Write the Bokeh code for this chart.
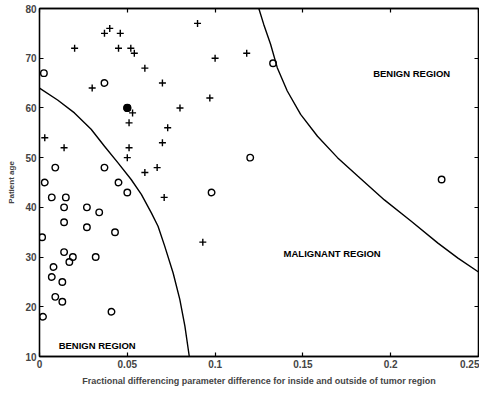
from bokeh.plotting import figure
from bokeh.models import LinearAxis, FixedTicker, Label, Range1d
from bokeh.embed import file_html
from bokeh.resources import INLINE

# ---- data ----
plus_x = [0.020, 0.037, 0.040, 0.046, 0.045, 0.052, 0.054, 0.060, 0.070, 0.030,
          0.080, 0.053, 0.051, 0.073, 0.070, 0.051, 0.050, 0.014, 0.003, 0.060,
          0.067, 0.090, 0.097, 0.100, 0.118, 0.071, 0.093, 0.050]
plus_age = [72, 75, 76, 75, 72, 72, 71, 68, 65, 64,
            60, 59, 57, 56, 53, 52, 50, 52, 54, 47,
            48, 77, 62, 70, 71, 42, 33, 60]

circle_x = [0.0025, 0.037, 0.050, 0.009, 0.037, 0.003, 0.045, 0.050, 0.098, 0.120,
            0.133, 0.229, 0.007, 0.015, 0.014, 0.027, 0.034, 0.0015, 0.014, 0.027,
            0.043, 0.014, 0.019, 0.017, 0.032, 0.008, 0.007, 0.013, 0.009, 0.013,
            0.002, 0.041]
circle_age = [67, 65, 60, 48, 48, 45, 45, 43, 43, 50,
              69, 45.6, 42, 42, 40, 40, 39, 34, 37, 36,
              35, 31, 30, 29, 30, 28, 26, 25, 22, 21,
              18, 19]

overlap_x = [0.050]
overlap_age = [60]

inner_x = [0.0, 0.0103, 0.0199, 0.0294, 0.037, 0.0446, 0.0522, 0.058, 0.0637,
           0.0675, 0.0713, 0.0761, 0.0799, 0.0828, 0.0853]
inner_age = [64, 61.6, 59.0, 55.7, 52.3, 49.0, 45.6, 42.6, 38.9,
             36.2, 32.2, 26.8, 21.5, 16.1, 10]

outer_x = [0.1249, 0.1277, 0.1316, 0.1354, 0.1411, 0.1487, 0.1583, 0.1697, 0.1812,
           0.1964, 0.2117, 0.2269, 0.2383, 0.25]
outer_age = [80, 76.8, 72.8, 68.1, 63.4, 58.7, 54.3, 50, 46.3,
             41.5, 37.2, 32.8, 29.8, 27.0]

x_ticks = [0, 0.05, 0.1, 0.15, 0.2, 0.25]
x_tick_labels = ["0", "0.05", "0.1", "0.15", "0.2", "0.25"]
y_ticks = [10, 20, 30, 40, 50, 60, 70, 80]

region_labels = ["BENIGN REGION", "MALIGNANT REGION", "BENIGN REGION"]

FONT = "Liberation Sans"

p = figure(width=479, height=388, output_backend="svg", toolbar_location=None,
           x_range=Range1d(0, 0.25), y_range=Range1d(10, 80),
           min_border_left=39, min_border_right=1, min_border_top=8, min_border_bottom=28,
           background_fill_color="white", border_fill_color="white")
p.grid.visible = False
p.outline_line_color = "black"
p.outline_line_width = 1.3

xa = p.xaxis[0]
xa.ticker = FixedTicker(ticks=x_ticks)
xa.major_label_overrides = {t: l for t, l in zip(x_ticks, x_tick_labels)}
ya = p.yaxis[0]
ya.ticker = FixedTicker(ticks=y_ticks)
for ax in (xa, ya):
    ax.major_tick_in = 4
    ax.major_tick_out = 0
    ax.minor_tick_line_color = None
    ax.axis_line_color = "black"
    ax.axis_line_width = 1.3
    ax.major_tick_line_width = 1.2
    ax.major_label_text_font = FONT
    ax.major_label_text_font_style = "bold"
    ax.major_label_text_font_size = "10px"
    ax.major_label_standoff = 3
    ax.axis_label_text_font = FONT
    ax.axis_label_text_font_style = "bold"
    ax.axis_label_standoff = 6

xa.axis_label = "Fractional differencing parameter difference for inside and outside of tumor region"
xa.axis_label_text_font_size = "9px"
xa.axis_label_standoff = 5
ya.axis_label = "Patient age"
ya.axis_label_text_font_size = "8px"

top = LinearAxis(ticker=FixedTicker(ticks=x_ticks))
right = LinearAxis(ticker=FixedTicker(ticks=y_ticks))
for ax in (top, right):
    ax.major_tick_in = 4
    ax.major_tick_out = 0
    ax.minor_tick_line_color = None
    ax.axis_line_color = "black"
    ax.axis_line_width = 1.3
    ax.major_tick_line_width = 1.2
    ax.major_label_text_font_size = "0px"
    ax.major_label_text_color = None
    ax.major_label_standoff = 0
p.add_layout(top, "above")
p.add_layout(right, "right")

# boundary curves
p.line(inner_x, inner_age, line_color="black", line_width=1.4)
p.line(outer_x, outer_age, line_color="black", line_width=1.4)

# markers
p.scatter(plus_x, plus_age, marker="cross", size=7, line_color="black", line_width=1.4)
p.scatter(circle_x, circle_age, marker="circle", size=6.5, line_color="black",
          fill_color=None, line_width=1.4)
p.scatter(overlap_x, overlap_age, marker="circle", size=7, line_color="black",
          fill_color="black", line_width=1.2)

label_pos = [(0.190, 66.9), (0.139, 30.7), (0.0109, 12.3)]
for txt, (lx, ly) in zip(region_labels, label_pos):
    p.add_layout(Label(x=lx, y=ly, text=txt, text_font=FONT, text_font_style="bold",
                       text_font_size="9.5px", text_baseline="middle", text_align="left",
                       text_color="black"))

open("out.html", "w").write(file_html(p, INLINE))
